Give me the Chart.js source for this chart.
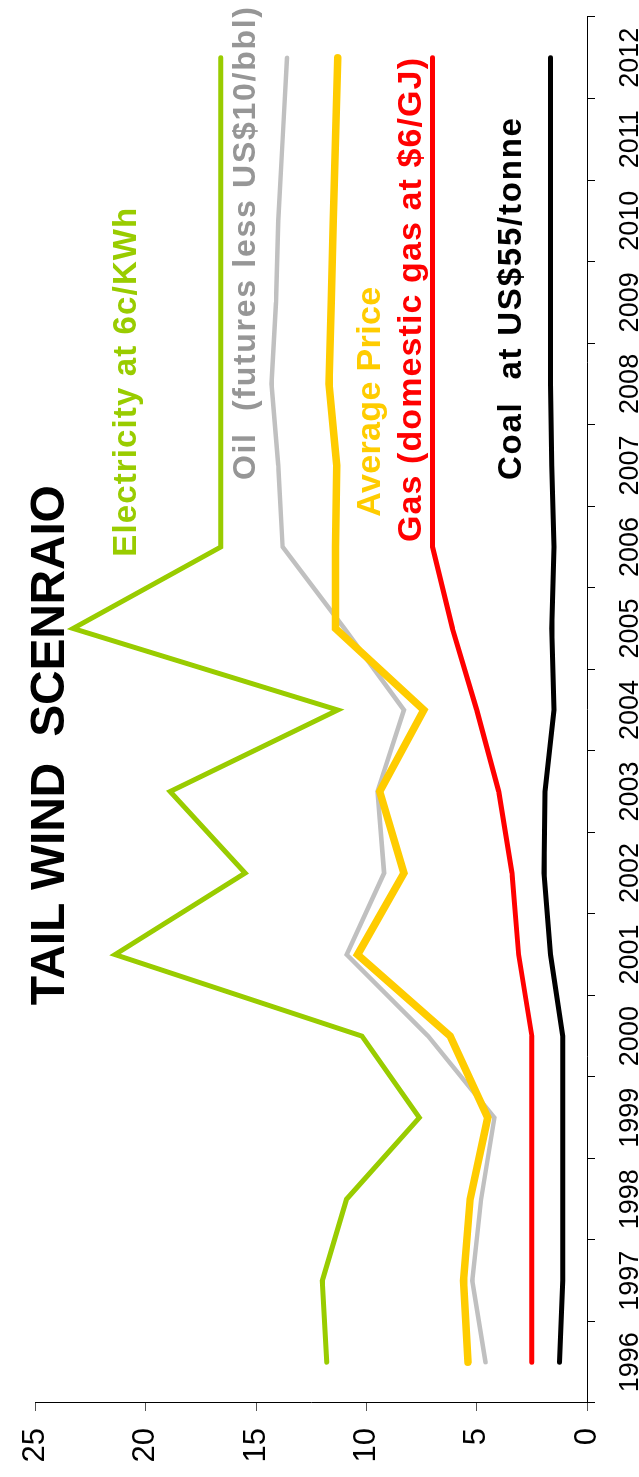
<!DOCTYPE html>
<html>
<head>
<meta charset="utf-8">
<title>Tail Wind Scenario</title>
<script src="https://cdn.jsdelivr.net/npm/chart.js@4.4.0/dist/chart.umd.min.js"></script>
<style>
  html, body { margin: 0; padding: 0; background: #fff; overflow: hidden; }
  /* chart is drawn landscape, then turned a quarter to the left */
  #wrap {
    position: absolute; left: 0; top: 0;
    width: 1477px; height: 639px;
    transform-origin: 0 0;
    transform: translate(0, 1477px) rotate(-90deg);
  }
</style>
</head>
<body>
<div id="wrap"><canvas id="chart" width="1477" height="639"></canvas></div>
<script>
/* ----------- Data ----------- */
const years = ['1996','1997','1998','1999','2000','2001','2002','2003','2004',
               '2005','2006','2007','2008','2009','2010','2011','2012'];
const electricity = [11.8, 12.0, 10.9, 7.6, 10.2, 21.4, 15.5, 18.9, 11.3, 23.3, 16.6, 16.6, 16.6, 16.6, 16.6, 16.6, 16.6];
const oil         = [4.6, 5.2, 4.8, 4.2, 7.2, 10.9, 9.2, 9.5, 8.3, 11.0, 13.8, 14.0, 14.3, 14.1, 14.0, 13.8, 13.6];
const average     = [5.4, 5.6, 5.3, 4.5, 6.2, 10.4, 8.3, 9.4, 7.4, 11.4, 11.4, 11.35, 11.7, 11.6, 11.5, 11.4, 11.3];
const gas         = [2.5, 2.5, 2.5, 2.5, 2.5, 3.1, 3.4, 4.0, 5.0, 6.1, 7.0, 7.0, 7.0, 7.0, 7.0, 7.0, 7.0];
const coal        = [1.25, 1.1, 1.1, 1.1, 1.1, 1.65, 1.95, 1.9, 1.5, 1.6, 1.5, 1.6, 1.65, 1.65, 1.65, 1.65, 1.65];
const yTicks = [0, 5, 10, 15, 20, 25];

const FONT = '"Liberation Sans", Arial, Helvetica, sans-serif';

/* ----------- Text labels on the plot (anchored by category index / value) ----------- */
const notes = [
  {text: 'TAIL WIND  SCENRAIO',          color: '#000000', size: 48, idx: 4.38,  val: 23.7,  width: 520},
  {text: 'Electricity at 6c/KWh',        color: '#99CC00', size: 33, idx: 9.88,  val: 20.44, width: 349},
  {text: 'Oil  (futures less US$10/bbl)', color: '#969696', size: 32, idx: 10.82, val: 15.07, width: 473},
  {text: 'Average Price',                color: '#FFCC00', size: 34, idx: 10.37, val: 9.39,  width: 230},
  {text: 'Gas (domestic gas at $6/GJ)',  color: '#FF0000', size: 34, idx: 10.06, val: 7.51,  width: 484},
  {text: 'Coal  at US$55/tonne',         color: '#000000', size: 33, idx: 10.82, val: 3.0,   width: 362}
];

const notesPlugin = {
  id: 'notes',
  afterDatasetsDraw(chart) {
    const ctx = chart.ctx, xs = chart.scales.x, ys = chart.scales.y;
    notes.forEach(n => {
      ctx.save();
      ctx.font = `bold ${n.size}px ${FONT}`;
      ctx.fillStyle = n.color;
      ctx.textAlign = 'left';
      ctx.textBaseline = 'alphabetic';
      const w = ctx.measureText(n.text).width;
      if ('letterSpacing' in ctx) ctx.letterSpacing = ((n.width - w) / (n.text.length - 1)) + 'px';
      ctx.fillText(n.text, xs.getPixelForValue(n.idx), ys.getPixelForValue(n.val));
      ctx.restore();
    });
  }
};

function line(label, data, color, width, order) {
  return {
    label: label,
    data: data,
    borderColor: color,
    backgroundColor: color,
    borderWidth: width,
    borderCapStyle: 'round',
    borderJoinStyle: 'miter',
    pointRadius: 0,
    tension: 0,
    fill: false,
    order: order
  };
}

new Chart(document.getElementById('chart').getContext('2d'), {
  type: 'line',
  data: {
    labels: years,
    datasets: [
      line('Electricity', electricity, '#99CC00', 5, 1),
      line('Oil', oil, '#C0C0C0', 4.5, 2),
      line('Average Price', average, '#FFCC00', 7.5, 0),
      line('Gas', gas, '#FF0000', 5, 1),
      line('Coal', coal, '#000000', 5, 1)
    ]
  },
  options: {
    responsive: false,
    animation: false,
    devicePixelRatio: 1,
    layout: { padding: { top: 28, right: 17, left: 0, bottom: 0 } },
    plugins: { legend: { display: false }, tooltip: { enabled: false } },
    scales: {
      x: {
        type: 'category',
        offset: true,
        grid: { offset: true, drawOnChartArea: false, drawTicks: true, tickLength: 8, color: '#000' },
        border: { display: true, color: '#000', width: 1 },
        ticks: { color: '#000', font: { family: FONT, size: 27 }, padding: 19,
                 maxRotation: 0, minRotation: 0, autoSkip: false },
        afterFit: s => { s.height = 52; }
      },
      y: {
        min: 0, max: 25,
        afterBuildTicks: s => { s.ticks = yTicks.map(v => ({ value: v })); },
        grid: { drawOnChartArea: false, drawTicks: true, tickLength: 8, color: '#555' },
        border: { display: true, color: '#000', width: 1 },
        ticks: { color: '#000', font: { family: FONT, size: 31 }, padding: 17 },
        afterFit: s => { s.width = 74; }
      }
    }
  },
  plugins: [notesPlugin]
});
</script>
</body>
</html>
